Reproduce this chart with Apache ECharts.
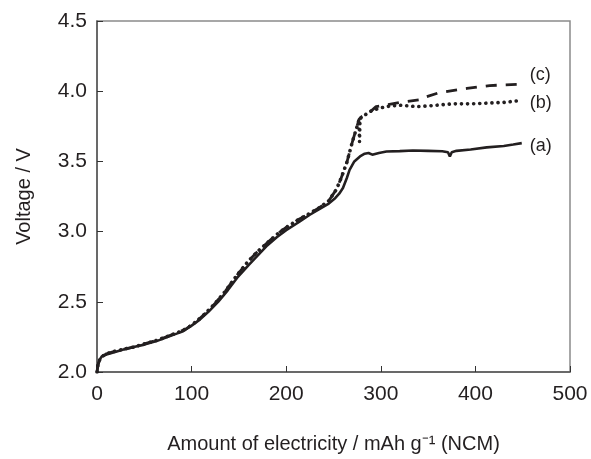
<!DOCTYPE html>
<html><head><meta charset="utf-8">
<script src="https://cdn.jsdelivr.net/npm/echarts@6/dist/echarts.min.js"></script>
<style>html,body{margin:0;padding:0;background:#fff}#c{width:591px;height:459px}</style>
</head><body><div id="c"></div>
<script>
var xTicks = [0, 100, 200, 300, 400, 500];
var yTicks = [2.0, 2.5, 3.0, 3.5, 4.0, 4.5];
var seriesNames = ['(a)', '(b)', '(c)'];
var curveA = [[0,2.0],[1,2.05],[3,2.09],[5,2.11],[10,2.125],[20,2.145],[28,2.16],[40,2.18],[50,2.195],[63,2.22],[75,2.25],[85,2.275],[91,2.29],[100,2.33],[109,2.375],[118,2.43],[128,2.50],[138,2.58],[148,2.67],[160,2.76],[170,2.83],[179,2.895],[190,2.96],[200,3.01],[214,3.07],[225,3.12],[235,3.16],[245,3.20],[252,3.24],[256,3.27],[260,3.31],[264,3.38],[267,3.44],[272,3.50],[278,3.535],[283,3.555],[287,3.56],[291,3.548],[298,3.56],[306,3.57],[320,3.573],[334,3.578],[350,3.575],[365,3.572],[371,3.565],[373,3.535],[375,3.565],[380,3.575],[395,3.585],[412,3.60],[430,3.61],[440,3.62],[449,3.63]];
var curveB = [[0,2.0],[1,2.05],[3,2.09],[5,2.11],[10,2.13],[20,2.15],[30,2.165],[40,2.18],[50,2.2],[63,2.225],[75,2.255],[85,2.28],[95,2.31],[105,2.36],[115,2.42],[125,2.49],[135,2.57],[148,2.69],[160,2.79],[170,2.86],[180,2.92],[190,2.98],[200,3.03],[214,3.09],[225,3.13],[235,3.17],[245,3.22],[253,3.30],[258,3.38],[264,3.49],[270,3.64],[274,3.73],[276,3.77],[277,3.80],[277.5,3.64],[278,3.80],[280,3.82],[283,3.83],[290,3.86],[299,3.88],[310,3.895],[320,3.90],[330,3.895],[338,3.89],[350,3.895],[376,3.91],[395,3.91],[412,3.915],[430,3.92],[449,3.935]];
var curveC = [[0,2.0],[1,2.05],[3,2.09],[5,2.11],[10,2.13],[20,2.15],[30,2.165],[40,2.18],[50,2.2],[63,2.225],[75,2.255],[85,2.28],[95,2.31],[105,2.36],[115,2.42],[125,2.49],[135,2.57],[148,2.69],[160,2.79],[170,2.86],[180,2.92],[190,2.98],[200,3.03],[214,3.09],[225,3.13],[235,3.17],[245,3.22],[253,3.30],[258,3.38],[264,3.49],[270,3.64],[274,3.73],[277,3.80],[280,3.82],[283,3.83],[290,3.86],[295,3.89],[320,3.92],[343,3.94],[348,3.96],[362,3.99],[391,4.02],[415,4.04],[449,4.05]];

var FONT = 'Liberation Sans, Arial, sans-serif';
var TXT = '#231f20';
var chart = echarts.init(document.getElementById('c'), null, {renderer: 'canvas'});
function lbl(name, dy) {
  return {show: true, formatter: name, distance: 8, offset: [0, dy], color: TXT, fontSize: 18, fontFamily: FONT};
}
chart.setOption({
  animation: false,
  grid: {left: 97, right: 21, top: 21, bottom: 86, show: true, borderColor: '#8a8a8a', borderWidth: 1.5, containLabel: false},
  xAxis: {
    type: 'value', min: 0, max: 500, interval: 100,
    name: 'Amount of electricity / mAh g\u207B\u00B9 (NCM)', nameLocation: 'middle', nameGap: 62,
    nameTextStyle: {color: TXT, fontSize: 20, fontFamily: FONT},
    axisLine: {show: true, lineStyle: {color: '#555', width: 1.5}},
    axisTick: {show: true, inside: true, length: 6, lineStyle: {color: '#333', width: 1}},
    splitLine: {show: false},
    axisLabel: {color: TXT, fontSize: 21, fontFamily: FONT, margin: 12,
      formatter: function (v) { return xTicks.indexOf(v) >= 0 ? String(v) : ''; }}
  },
  yAxis: {
    type: 'value', min: 2.0, max: 4.5, interval: 0.5,
    name: 'Voltage / V', nameLocation: 'middle', nameGap: 63,
    nameTextStyle: {color: TXT, fontSize: 20, fontFamily: FONT},
    axisLine: {show: true, lineStyle: {color: '#555', width: 1.5}},
    axisTick: {show: true, inside: true, length: 6, lineStyle: {color: '#333', width: 1}},
    splitLine: {show: false},
    axisLabel: {color: TXT, fontSize: 21, fontFamily: FONT, margin: 10,
      formatter: function (v) { return v.toFixed(1); }}
  },
  series: [
    {name: seriesNames[2], type: 'line', data: curveC, showSymbol: false, symbol: 'none', smooth: false,
      lineStyle: {color: '#231f20', width: 2.8, type: [11, 9]}, endLabel: lbl(seriesNames[2], -9), z: 2},
    {name: seriesNames[1], type: 'line', data: curveB, showSymbol: false, symbol: 'none', smooth: false,
      lineStyle: {color: '#231f20', width: 3.6, type: [0.1, 6], cap: 'round'}, endLabel: lbl(seriesNames[1], 3), z: 3},
    {name: seriesNames[0], type: 'line', data: curveA, showSymbol: false, symbol: 'none', smooth: false,
      lineStyle: {color: '#231f20', width: 2.6}, endLabel: lbl(seriesNames[0], 3), z: 4}
  ]
});
</script></body></html>
